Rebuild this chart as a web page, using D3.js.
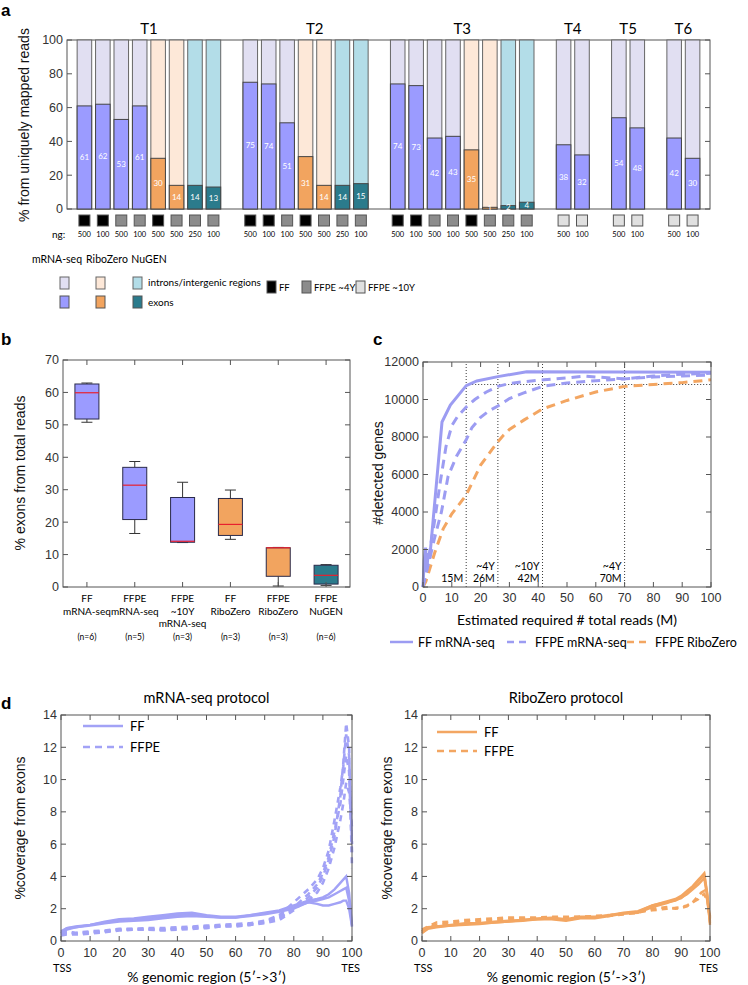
<!DOCTYPE html>
<html>
<head>
<meta charset="utf-8">
<script src="https://cdn.jsdelivr.net/npm/d3@7"></script>
<style>
body { margin: 0; background: #fff; }
text { font-family: "Liberation Sans", Arial, sans-serif; fill: #222; }
.my { font-family: Lato, "Open Sans", sans-serif; }
</style>
</head>
<body>
<svg id="fig" width="748" height="985"></svg>
<script>
"use strict";

//
// Panel a data
//
var groups = ["T1", "T2", "T3", "T4", "T5", "T6"];
var sampleGroup = ["T1","T1","T1","T1","T1","T1","T1","T1",
	"T2","T2","T2","T2","T2","T2","T2",
	"T3","T3","T3","T3","T3","T3","T3","T3",
	"T4","T4","T5","T5","T6","T6"];
var sampleProtocol = ["mRNA","mRNA","mRNA","mRNA","Ribo","Ribo","NuGEN","NuGEN",
	"mRNA","mRNA","mRNA","Ribo","Ribo","NuGEN","NuGEN",
	"mRNA","mRNA","mRNA","mRNA","Ribo","Ribo","NuGEN","NuGEN",
	"mRNA","mRNA","mRNA","mRNA","mRNA","mRNA"];
var sampleTissue = ["FF","FF","4Y","4Y","FF","4Y","4Y","4Y",
	"FF","FF","4Y","FF","4Y","4Y","4Y",
	"FF","FF","4Y","4Y","FF","4Y","4Y","4Y",
	"10Y","10Y","10Y","10Y","10Y","10Y"];
var sampleNg = [500,100,500,100,500,500,250,100,
	500,100,100,500,500,250,100,
	500,100,500,100,500,500,250,100,
	500,100,500,100,500,100];
var exonPct = [61,62,53,61,30,14,14,13,
	75,74,51,31,14,14,15,
	74,73,42,43,35,1,2,4,
	38,32,54,48,42,30];

//
// Panel b data
//
var boxCats = [["FF","mRNA-seq"],["FFPE","mRNA-seq"],["FFPE","~10Y","mRNA-seq"],["FF","RiboZero"],["FFPE","RiboZero"],["FFPE","NuGEN"]];
var boxProtocol = ["mRNA","mRNA","mRNA","Ribo","Ribo","NuGEN"];
var boxN = [6,5,3,3,3,6];
var boxLow = [50.8,16.5,13.7,14.7,0.3,0.5];
var boxQ1 = [51.8,20.8,13.8,15.9,3.3,0.9];
var boxMed = [59.9,31.4,14.1,19.3,12.1,3.6];
var boxQ3 = [62.6,36.9,27.6,27.3,12.1,6.7];
var boxHigh = [62.9,38.7,32.3,29.9,12.2,6.9];

//
// Panel c data
//
var satFF_x = [0,0.4,0.9,1.3,1.8,2.3,6.6,9.5,15,18.7,26,36,100];
var satFF_y = [0,1400,2100,900,1800,1500,8800,9700,10740,10990,11220,11480,11450];
var satFFPE1_x = [0,1,2,4,6,8,10,12,15,18,22,26,30,35,42,50,56,60,70,80,90,100];
var satFFPE1_y = [0,800,1600,3500,5600,7500,8600,9100,9600,10000,10400,10700,10850,10950,11050,11150,11250,11200,11100,11250,11350,11400];
var satFFPE2_x = [0,1,2,4,6.4,8.7,11.6,15,17,20,23,26,30,35,41.5,50,60,70,80,90,100];
var satFFPE2_y = [0,700,1300,2600,4000,5900,6960,7850,8500,9050,9400,9650,10050,10350,10700,10880,11000,11100,11200,11250,11300];
var satRibo_x = [0,1,2,4,7,10,15,20,26,28,30,35,41.5,50,60,70,80,90,100];
var satRibo_y = [0,300,800,1800,3100,3900,4900,6500,7750,8100,8400,8900,9500,9950,10400,10700,10800,10900,11050];
var cutoffX = [15,26,41.5,70];
var cutoffLabels = [["15M"],["~4Y","26M"],["~10Y","42M"],["~4Y","70M"]];
var cutoffY = 10800;

//
// Panel d data
//
var covX = [0,2,5,10,15,20,25,30,35,40,45,50,55,60,65,70,75,80,85,88,90,92,94,96,97,98,99,100];
var mrnaFF = [
	[0.5,0.8,0.85,1.0,1.2,1.35,1.4,1.5,1.6,1.7,1.75,1.6,1.5,1.5,1.6,1.75,1.9,2.2,2.5,2.6,2.7,2.9,3.2,3.6,3.8,4.0,3.0,0.9],
	[0.6,0.8,0.9,1.0,1.15,1.25,1.35,1.4,1.5,1.6,1.65,1.55,1.45,1.45,1.6,1.7,1.85,2.1,2.4,2.5,2.6,2.7,2.9,3.1,3.2,3.3,2.5,1.0],
	[0.5,0.7,0.85,0.95,1.1,1.2,1.25,1.3,1.4,1.5,1.55,1.5,1.45,1.45,1.55,1.65,1.8,2.0,2.4,2.3,2.2,2.2,2.3,2.4,2.5,2.5,2.0,0.9]
];
var mrnaFFPE = [
	[0.4,0.5,0.45,0.5,0.6,0.7,0.7,0.7,0.7,0.75,0.8,0.85,0.9,0.95,1.0,1.1,1.3,1.9,2.7,3.3,4.0,5.0,6.5,9.0,11.0,13.5,12.0,4.5],
	[0.5,0.6,0.5,0.6,0.65,0.75,0.75,0.75,0.7,0.8,0.85,0.9,0.95,1.0,1.05,1.2,1.5,2.1,2.9,3.5,4.2,5.2,6.8,8.5,10.0,11.5,10.5,5.5],
	[0.35,0.4,0.4,0.45,0.55,0.65,0.7,0.7,0.65,0.7,0.75,0.8,0.9,0.9,1.0,1.15,1.4,2.0,2.5,3.0,3.6,4.5,5.8,7.5,8.5,9.8,9.2,7.0],
	[0.45,0.55,0.5,0.55,0.6,0.7,0.75,0.8,0.8,0.85,0.9,0.95,1.0,1.05,1.1,1.25,1.6,2.4,3.2,3.8,4.5,5.6,7.5,9.5,10.8,12.8,11.5,6.0]
];
var riboFF = [
	[0.5,0.8,0.9,0.95,1.05,1.1,1.15,1.2,1.3,1.35,1.4,1.3,1.45,1.45,1.6,1.7,1.8,2.2,2.45,2.6,2.8,3.1,3.4,3.8,4.0,4.2,3.0,1.2],
	[0.6,0.85,0.9,1.0,1.1,1.1,1.2,1.25,1.3,1.4,1.45,1.35,1.5,1.5,1.6,1.75,1.85,2.2,2.4,2.5,2.7,2.9,3.2,3.5,3.7,3.9,2.8,1.1],
	[0.5,0.75,0.85,0.95,1.0,1.05,1.15,1.2,1.25,1.35,1.35,1.25,1.4,1.4,1.55,1.7,1.75,2.1,2.35,2.55,2.65,2.95,3.3,3.7,3.9,4.1,2.9,1.0]
];
var riboFFPE = [
	[0.7,0.9,1.15,1.2,1.3,1.35,1.4,1.45,1.45,1.45,1.5,1.5,1.5,1.55,1.6,1.7,1.8,1.9,2.0,2.05,2.1,2.2,2.4,2.6,2.8,2.9,2.5,1.5],
	[0.6,0.85,1.0,1.1,1.2,1.25,1.3,1.35,1.4,1.4,1.45,1.45,1.5,1.5,1.55,1.65,1.75,2.0,2.1,2.0,2.05,2.15,2.4,2.8,3.0,3.1,2.6,1.4]
];

//
// Styles
//
var light = { mRNA: "#e1dff2", Ribo: "#fde8d8", NuGEN: "#b3dde8" };
var dark = { mRNA: "#9b9bff", Ribo: "#f2a45f", NuGEN: "#2b7b8c" };
var tissueFill = { FF: "#000", "4Y": "#8c8c8c", "10Y": "#e0e0e0" };
var blue = "#9c9cf2";
var orange = "#f3a662";
var axisColor = "#555";

var svg = d3.select("#fig");

// MATLAB-like box axes with inward ticks on all four sides
function frame(g, x, y, xTicks, yTicks, xLabelOffset) {
	var x0 = x.range()[0], x1 = x.range()[1];
	var y0 = y.range()[0], y1 = y.range()[1];
	var tl = 5;
	g.append("rect")
		.attr("x", x0).attr("y", y1)
		.attr("width", x1 - x0).attr("height", y0 - y1)
		.attr("fill", "none").attr("stroke", axisColor);
	yTicks.forEach(function(v) {
		g.append("line").attr("x1", x0).attr("x2", x0 + tl).attr("y1", y(v)).attr("y2", y(v)).attr("stroke", axisColor);
		g.append("line").attr("x1", x1).attr("x2", x1 - tl).attr("y1", y(v)).attr("y2", y(v)).attr("stroke", axisColor);
		g.append("text").attr("x", x0 - 4).attr("y", y(v)).attr("dy", "0.35em")
			.attr("text-anchor", "end").attr("font-size", 12.5).style("fill", "#333").text(v);
	});
	if (!xTicks) return;
	xTicks.forEach(function(v) {
		var px = x.bandwidth ? x(v) + x.bandwidth() / 2 : x(v);
		g.append("line").attr("x1", px).attr("x2", px).attr("y1", y0).attr("y2", y0 - tl).attr("stroke", axisColor);
		g.append("line").attr("x1", px).attr("x2", px).attr("y1", y1).attr("y2", y1 + tl).attr("stroke", axisColor);
		if (!x.bandwidth)
			g.append("text").attr("x", px).attr("y", y0 + xLabelOffset)
				.attr("text-anchor", "middle").attr("font-size", 12.5).style("fill", "#333").text(v);
	});
}

function panelLetter(t, x, y) {
	svg.append("text").attr("x", x).attr("y", y).attr("font-size", 17).attr("font-weight", "bold").style("fill", "#000").text(t);
}

function yLabel(t, x, y, size) {
	svg.append("text").attr("transform", "translate(" + x + "," + y + ") rotate(-90)")
		.attr("text-anchor", "middle").attr("font-size", size || 14).style("fill", "#111").text(t);
}

//
// Panel a
//
var ga = svg.append("g");
var slots = [];
var slot = 0;
sampleGroup.forEach(function(g, i) {
	if (i > 0 && g !== sampleGroup[i - 1]) slot += 1;
	slots.push(slot);
	slot += 1;
});
var xa = d3.scaleBand().domain(d3.range(slot)).range([67, 710]).paddingInner(0.21).paddingOuter(0.55);
var ya = d3.scaleLinear().domain([0, 100]).range([209, 40]);

frame(ga, xa, ya, null, d3.range(0, 101, 20));
panelLetter("a", 1, 16);
yLabel("% from uniquely mapped reads", 29, 125, 14);

var bars = ga.selectAll(".bar").data(exonPct).enter().append("g").attr("class", "bar")
	.attr("transform", function(d, i) { return "translate(" + xa(slots[i]) + ",0)"; });
bars.append("rect")
	.attr("y", ya(100)).attr("height", ya(0) - ya(100)).attr("width", xa.bandwidth())
	.attr("fill", function(d, i) { return light[sampleProtocol[i]]; })
	.attr("stroke", "#666");
bars.append("rect")
	.attr("y", function(d) { return ya(d); }).attr("height", function(d) { return ya(0) - ya(d); })
	.attr("width", xa.bandwidth())
	.attr("fill", function(d, i) { return dark[sampleProtocol[i]]; })
	.attr("stroke", "#444");
bars.append("text")
	.attr("x", xa.bandwidth() / 2).attr("y", function(d) { return ya(d / 2); }).attr("dy", "0.35em")
	.attr("text-anchor", "middle").attr("class", "my").attr("font-size", 8).style("fill", "#fff")
	.text(function(d) { return d; });
bars.append("rect")
	.attr("x", xa.bandwidth() / 2 - 5.5).attr("y", 215).attr("width", 11).attr("height", 11)
	.attr("fill", function(d, i) { return tissueFill[sampleTissue[i]]; })
	.attr("stroke", "#555");
bars.append("text")
	.attr("x", xa.bandwidth() / 2).attr("y", 237).attr("text-anchor", "middle")
	.attr("class", "my").attr("font-size", 7.5).style("fill", "#000")
	.text(function(d, i) { return sampleNg[i]; });
ga.append("text").attr("x", 52).attr("y", 237.5).attr("class", "my").attr("font-size", 10).style("fill", "#000").text("ng:");

groups.forEach(function(g) {
	var idx = d3.range(sampleGroup.length).filter(function(i) { return sampleGroup[i] === g; });
	var first = slots[idx[0]];
	var span = idx.length >= 7 ? 8 : idx.length;
	var cx = (xa(first) + xa(first + span - 1) + xa.bandwidth()) / 2;
	ga.append("text").attr("x", cx).attr("y", 34).attr("text-anchor", "middle")
		.attr("class", "my").attr("font-size", 15).style("fill", "#000").text(g);
});

// legend a
var legA = svg.append("g");
[["mRNA-seq", 57, "mRNA"], ["RiboZero", 107, "Ribo"], ["NuGEN", 149, "NuGEN"]].forEach(function(p) {
	legA.append("text").attr("x", p[1]).attr("y", 263).attr("text-anchor", "middle")
		.attr("class", "my").attr("font-size", 10.5).style("fill", "#000").text(p[0]);
});
[["mRNA", 60], ["Ribo", 96], ["NuGEN", 133]].forEach(function(p) {
	legA.append("rect").attr("x", p[1]).attr("y", 277).attr("width", 9).attr("height", 12).attr("fill", light[p[0]]).attr("stroke", "#666");
	legA.append("rect").attr("x", p[1]).attr("y", 296).attr("width", 9).attr("height", 12).attr("fill", dark[p[0]]).attr("stroke", "#555");
});
legA.append("text").attr("x", 148).attr("y", 286).attr("class", "my").attr("font-size", 10).style("fill", "#000").text("introns/intergenic regions");
legA.append("text").attr("x", 148).attr("y", 306).attr("class", "my").attr("font-size", 10).style("fill", "#000").text("exons");
[["FF", 267, "FF"], ["FFPE ~4Y", 302, "4Y"], ["FFPE ~10Y", 356, "10Y"]].forEach(function(p) {
	legA.append("rect").attr("x", p[1]).attr("y", 281).attr("width", 9).attr("height", 12).attr("fill", tissueFill[p[2]]).attr("stroke", "#555");
	legA.append("text").attr("x", p[1] + 12).attr("y", 291).attr("class", "my").attr("font-size", 9.5).style("fill", "#000").text(p[0]);
});

//
// Panel b
//
var gb = svg.append("g");
var xb = d3.scaleBand().domain(d3.range(boxCats.length)).range([63, 350]);
var yb = d3.scaleLinear().domain([0, 70]).range([587, 360]);
panelLetter("b", 1, 345);
yLabel("% exons from total reads", 25, 473, 14);

var bw = 24, cw = 11;
boxCats.forEach(function(c, i) {
	var cx = xb(i) + xb.bandwidth() / 2;
	gb.append("line").attr("x1", cx).attr("x2", cx).attr("y1", yb(boxHigh[i])).attr("y2", yb(boxQ3[i])).attr("stroke", "#333");
	gb.append("line").attr("x1", cx).attr("x2", cx).attr("y1", yb(boxLow[i])).attr("y2", yb(boxQ1[i])).attr("stroke", "#333");
	gb.append("line").attr("x1", cx - cw / 2).attr("x2", cx + cw / 2).attr("y1", yb(boxHigh[i])).attr("y2", yb(boxHigh[i])).attr("stroke", "#333");
	gb.append("line").attr("x1", cx - cw / 2).attr("x2", cx + cw / 2).attr("y1", yb(boxLow[i])).attr("y2", yb(boxLow[i])).attr("stroke", "#333");
	gb.append("rect").attr("x", cx - bw / 2).attr("y", yb(boxQ3[i])).attr("width", bw)
		.attr("height", yb(boxQ1[i]) - yb(boxQ3[i]))
		.attr("fill", dark[boxProtocol[i]]).attr("stroke", "#2a2a4a");
	gb.append("line").attr("x1", cx - bw / 2).attr("x2", cx + bw / 2).attr("y1", yb(boxMed[i])).attr("y2", yb(boxMed[i])).attr("stroke", "#e8202e").attr("stroke-width", 1.2);
	var lab = gb.append("text").attr("x", cx).attr("y", 602).attr("text-anchor", "middle")
		.attr("class", "my").attr("font-size", 10).style("fill", "#000");
	c.forEach(function(line, k) {
		lab.append("tspan").attr("x", cx).attr("dy", k ? 12.5 : 0).text(line);
	});
	gb.append("text").attr("x", cx).attr("y", 640).attr("text-anchor", "middle")
		.attr("class", "my").attr("font-size", 8.5).style("fill", "#000").text("(n=" + boxN[i] + ")");
});
frame(gb, xb, yb, d3.range(boxCats.length), d3.range(0, 71, 10));

//
// Panel c
//
var gc = svg.append("g");
var xc = d3.scaleLinear().domain([0, 100]).range([423, 711]);
var yc = d3.scaleLinear().domain([0, 12000]).range([587, 362]);
panelLetter("c", 373, 345);
yLabel("#detected genes", 383, 473, 14);
var linec = d3.line().x(function(d) { return xc(d[0]); }).y(function(d) { return yc(d[1]); });

cutoffX.forEach(function(v, i) {
	gc.append("line").attr("x1", xc(v)).attr("x2", xc(v)).attr("y1", yc(0)).attr("y2", yc(12000))
		.attr("stroke", "#222").attr("stroke-width", 0.9).attr("stroke-dasharray", "1,2");
	var ny = cutoffLabels[i].length;
	var t = gc.append("text").attr("text-anchor", "end").attr("class", "my")
		.attr("font-size", 10.5).style("fill", "#000");
	cutoffLabels[i].forEach(function(s, k) {
		t.append("tspan").attr("x", xc(v) - 3).attr("y", 582 - (ny - 1 - k) * 12).text(s);
	});
});
gc.append("line").attr("x1", xc(cutoffX[0])).attr("x2", xc(100)).attr("y1", yc(cutoffY)).attr("y2", yc(cutoffY))
	.attr("stroke", "#222").attr("stroke-width", 0.9).attr("stroke-dasharray", "1,2");

[[satRibo_x, satRibo_y, orange, "9,6"], [satFFPE2_x, satFFPE2_y, blue, "9,6"],
 [satFFPE1_x, satFFPE1_y, blue, "9,6"], [satFF_x, satFF_y, blue, null]].forEach(function(s) {
	gc.append("path").datum(d3.zip(s[0], s[1])).attr("d", linec)
		.attr("fill", "none").attr("stroke", s[2]).attr("stroke-width", 3)
		.attr("stroke-dasharray", s[3]);
});
frame(gc, xc, yc, d3.range(0, 101, 10), d3.range(0, 12001, 2000), 15);
gc.append("text").attr("x", 567).attr("y", 625).attr("text-anchor", "middle")
	.attr("class", "my").attr("font-size", 14).style("fill", "#000").text("Estimated required # total reads (M)");

[["FF mRNA-seq", 390, blue, null], ["FFPE mRNA-seq", 507, blue, "7,5"], ["FFPE RiboZero", 627, orange, "7,5"]].forEach(function(p) {
	gc.append("line").attr("x1", p[1]).attr("x2", p[1] + 23).attr("y1", 642).attr("y2", 642)
		.attr("stroke", p[2]).attr("stroke-width", 2.5).attr("stroke-dasharray", p[3]);
	gc.append("text").attr("x", p[1] + 28).attr("y", 646.5).attr("class", "my").attr("font-size", 12.5).style("fill", "#000").text(p[0]);
});

//
// Panel d
//
panelLetter("d", 1, 709);
function coveragePanel(x0, x1, title, solid, dashed, color, legY) {
	var g = svg.append("g");
	var x = d3.scaleLinear().domain([0, 100]).range([x0, x1]);
	var y = d3.scaleLinear().domain([0, 14]).range([941, 715]);
	var line = d3.line().x(function(d, i) { return x(covX[i]); }).y(function(d) { return y(d); });
	dashed.forEach(function(s) {
		g.append("path").datum(s).attr("d", line).attr("fill", "none").attr("stroke", color)
			.attr("stroke-width", 2.6).attr("stroke-dasharray", "6,5");
	});
	solid.forEach(function(s) {
		g.append("path").datum(s).attr("d", line).attr("fill", "none").attr("stroke", color).attr("stroke-width", 2.4);
	});
	frame(g, x, y, d3.range(0, 101, 10), d3.range(0, 15, 2), 16);
	var cx = (x0 + x1) / 2;
	g.append("text").attr("x", cx).attr("y", 703).attr("text-anchor", "middle").attr("class", "my").attr("font-size", 14.5).style("fill", "#000").text(title);
	g.append("text").attr("x", cx).attr("y", 982).attr("text-anchor", "middle").attr("class", "my").attr("font-size", 14).style("fill", "#000").text("% genomic region (5\u2032->3\u2032)");
	g.append("text").attr("x", x0 - 8).attr("y", 972).attr("class", "my").attr("font-size", 11).style("fill", "#000").text("TSS");
	g.append("text").attr("x", x1 + 8).attr("y", 972).attr("text-anchor", "end").attr("class", "my").attr("font-size", 11).style("fill", "#000").text("TES");
	[["FF", null, legY[0]], ["FFPE", "7,5", legY[1]]].forEach(function(p) {
		g.append("line").attr("x1", x0 + legY[2]).attr("x2", x0 + legY[2] + 40).attr("y1", p[2]).attr("y2", p[2])
			.attr("stroke", color).attr("stroke-width", 2.6).attr("stroke-dasharray", p[1]);
		g.append("text").attr("x", x0 + legY[2] + 47).attr("y", p[2] + 5).attr("class", "my").attr("font-size", 13).style("fill", "#000").text(p[0]);
	});
	return g;
}
coveragePanel(61, 352, "mRNA-seq protocol", mrnaFF, mrnaFFPE, "#a2a2f6", [726, 747, 22]);
coveragePanel(422, 710, "RiboZero protocol", riboFF, riboFFPE, orange, [732, 751, 15]);
yLabel("%coverage from exons", 25, 828, 14);
yLabel("%coverage from exons", 392, 828, 14);
</script>
</body>
</html>
